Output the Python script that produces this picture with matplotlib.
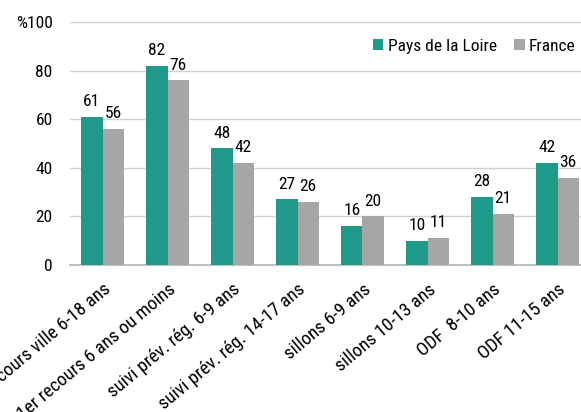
import matplotlib
matplotlib.use("Agg")
import matplotlib.pyplot as plt
import numpy as np

categories = ["recours ville 6-18 ans", "1er recours 6 ans ou moins", "suivi prév. rég. 6-9 ans",
              "suivi prév. rég. 14-17 ans", "sillons 6-9 ans", "sillons 10-13 ans",
              "ODF  8-10 ans", "ODF 11-15 ans"]
pays_de_la_loire = [61, 82, 48, 27, 16, 10, 28, 42]
france = [56, 76, 42, 26, 20, 11, 21, 36]
yticks = [0, 20, 40, 60, 80, 100]
ytick_labels = ["0", "20", "40", "60", "80", "%100"]

plt.rcParams['font.family'] = ['Roboto Condensed', 'Liberation Sans Narrow', 'Roboto', 'DejaVu Sans']

fig = plt.figure(figsize=(5.81, 4.12), dpi=100)
ax = fig.add_axes([70/581, 147/412, 520/581, 243/412])

teal = "#1f9a8a"
gray = "#a6a6a6"
fs = 12.5
x = np.arange(len(categories))
w = 0.325
b1 = ax.bar(x - w/2, pays_de_la_loire, w, color=teal, label="Pays de la Loire", zorder=3)
b2 = ax.bar(x + w/2, france, w, color=gray, label="France", zorder=3)

for rect, v in zip(b1, pays_de_la_loire):
    ax.text(rect.get_x() + rect.get_width()/2, v + 3.2, str(v), ha='center', va='bottom', fontsize=fs)
for rect, v in zip(b2, france):
    ax.text(rect.get_x() + rect.get_width()/2, v + 3.2, str(v), ha='center', va='bottom', fontsize=fs)

ax.set_xlim(-0.5, len(categories) - 0.5)
ax.set_ylim(0, 100)
ax.set_yticks(yticks)
ax.set_yticklabels(ytick_labels, fontsize=fs)
ax.yaxis.grid(True, color="#d0d0d0", linewidth=1, zorder=0)
ax.tick_params(axis='y', length=0, pad=12.5)
ax.tick_params(axis='x', length=0, pad=11)
ax.set_xticks(x)
ax.set_xticklabels(categories, rotation=40, ha='right', rotation_mode='anchor', fontsize=13.5)
for lbl in ax.get_xticklabels():
    lbl.set_x(lbl.get_position()[0])
for s in ['left', 'right', 'top']:
    ax.spines[s].set_visible(False)
ax.spines['bottom'].set_color("#c0c0c0")
ax.spines['bottom'].set_linewidth(1.5)

leg = ax.legend(loc='upper left', bbox_to_anchor=(296/520, 0.96), ncol=2, frameon=False,
                fontsize=fs, handlelength=0.6, handleheight=0.6, handletextpad=0.25,
                columnspacing=1.0, borderaxespad=0)

fig.savefig("out.png", dpi=100)
